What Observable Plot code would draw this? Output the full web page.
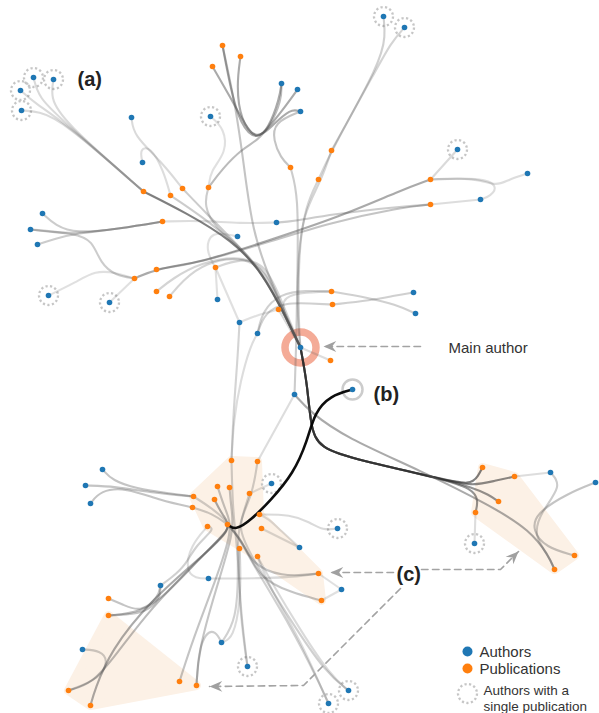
<!DOCTYPE html>
<html><head><meta charset="utf-8">
<script src="https://cdn.jsdelivr.net/npm/d3@7"></script>
<script src="https://cdn.jsdelivr.net/npm/@observablehq/plot@0.6"></script>
<style>html,body{margin:0;padding:0;background:#fff;} svg{display:block;}</style>
</head><body><div id="chart"></div>
<script>
// Authors: id, x, y, single publication (1/0)
const authors = [
 ["a1",33,77,1],["a2",53,79,1],["a3",20,90,1],["a4",21,110,1],["a5",210,116,1],
 ["a6",131,117,0],["a7",142,162,0],["a8",281,83,0],["a9",297,89,0],["a10",300,111,0],
 ["a11",383,16,1],["a12",404,27,1],["a13",457,149,1],["a14",527,173,0],["a15",480,199,0],
 ["a16",42,213,0],["a17",30,229,0],["a18",37,244,0],["a19",276,222,0],["a20",237,236,0],
 ["a21",48,295,1],["a22",109,302,1],["a23",217,299,0],["a24",239,322,0],["a25",257,333,0],
 ["M",300,347,0],["a27",294,394,0],["b",352,389,0],["a28",413,292,0],["a29",415,313,0],
 ["a30",102,469,0],["a31",85,485,0],["a32",90,503,0],["a33",271,483,1],["a34",337,528,1],
 ["a35",299,547,0],["a36",208,578,0],["a37",160,585,0],["a38",341,589,0],["a39",221,642,0],
 ["a40",82,649,0],["a41",247,666,1],["a42",348,690,1],["a43",328,703,1],["a44",550,472,0],
 ["a45",595,482,0],["a46",474,543,1]
];
// Publications: id, x, y
const publications = [
 ["p1",222,45],["p2",240,56],["p3",212,66],["p4",290,167],["p5",143,191],["p6",170,195],
 ["p7",182,188],["p8",208,187],["p9",331,150],["p10",318,179],["p11",430,179],["p12",430,204],
 ["p13",162,221],["p14",156,269],["p15",134,278],["p16",156,291],["p17",169,296],["p18",215,267],
 ["p19",278,309],["p20",331,291],["p21",332,304],["p22",330,360],
 ["p23",231,460],["p24",257,461],["p25",217,486],["p26",229,487],["p27",214,499],["p28",249,493],
 ["p29",193,496],["p30",192,507],["p31",259,514],["p32",207,526],["p33",227,524],["p34",261,528],
 ["p35",239,548],["p36",257,556],["p37",318,573],["p38",321,600],
 ["p39",108,598],["p40",108,615],["p41",68,690],["p42",90,705],["p43",179,681],["p44",196,685],
 ["p45",482,467],["p46",514,476],["p47",498,501],["p48",475,512],["p49",574,555],["p50",554,569]
];
// Clusters (c): ordered publication ids
const clusters = [
 ["p29","p23","p24","p31","p37","p38","p36","p32"],
 ["p40","p44","p42","p41"],
 ["p45","p46","p49","p50","p48"]
];
// Edges: source, target, routing points, strength, tone (0 gray, 1 black, 2 dark)
const edges = [
 ["a1","p5",[[38,97],[62,120]],.22],
 ["a2","p5",[[50,97],[62,120]],.22],
 ["a3","p5",[[36,104],[62,120]],.22],
 ["a4","p5",[[38,111],[62,120]],.22],
 ["p5","M",[[185,212],[232,240],[262,272],[286,318]],.6,2],
 ["p6","M",[[200,215],[234,242],[262,272],[286,318]],.3],
 ["p7","M",[[205,212],[236,243],[262,272],[286,318]],.3],
 ["p8","M",[[203,205],[215,228],[240,246],[265,276],[287,320]],.3],
 ["p1","M",[[236,110],[244,170],[252,230],[268,276],[288,320]],.35],
 ["p18","M",[[240,258],[265,262],[283,305]],.25],
 ["p16","M",[[172,278],[200,262],[240,255],[265,266],[285,316]],.25],
 ["p17","M",[[182,280],[205,262],[240,256],[265,268],[286,318]],.25],
 ["p9","M",[[320,182],[303,212],[297,260],[297,322]],.25],
 ["p10","M",[[305,205],[298,250],[298,322]],.25],
 ["p20","M",[[300,292],[278,298],[288,325]],.22],
 ["p19","M",[],.22],
 ["M","p22",[],.2],
 ["a6","p7",[[133,135],[160,160]],.22],
 ["a7","p6",[[139,148],[150,146],[163,170]],.2],
 ["a5","p8",[[224,128],[226,152],[210,170]],.18],
 ["p1","a8",[[230,88],[240,125],[256,140],[268,128],[279,98]],.5],
 ["p3","a9",[[230,97],[245,125],[256,140],[270,125],[287,103]],.5],
 ["p2","a10",[[236,85],[240,120],[256,140],[272,125],[290,108]],.5],
 ["p8","a8",[[222,168],[242,148],[257,140],[270,125],[281,100]],.4],
 ["a10","p4",[[273,122],[273,140],[280,157]],.35],
 ["p4","a27",[[298,195],[297,270],[296,340]],.3],
 ["a11","p9",[[385,35],[380,62]],.28],
 ["a12","p10",[[390,43],[377,67],[331,150]],.25],
 ["a13","p11",[],.22],
 ["p11","a14",[[475,177],[496,186],[508,179]],.2],
 ["p11","a15",[[480,177],[498,185],[490,196]],.2],
 ["a15","p12",[],.2],
 ["p15","p11",[[156,268],[200,262],[262,242],[340,216],[400,190]],.5],
 ["p14","p12",[[200,262],[270,241],[330,222],[400,207]],.35],
 ["p12","a19",[[400,206],[330,214],[292,221]],.3],
 ["a19","p13",[[240,223],[200,220]],.2],
 ["a16","p13",[[55,225],[75,233],[120,228]],.3],
 ["a17","p13",[[55,232],[75,233],[120,228]],.3],
 ["a18","p13",[[55,238],[75,233],[120,228]],.3],
 ["a17","p15",[[75,233],[92,240],[100,263],[115,275]],.3],
 ["a21","p15",[[75,282],[95,270],[115,272]],.18],
 ["a22","p15",[],.18],
 ["a20","p18",[[210,230],[205,250]],.18],
 ["p18","a23",[],.18],
 ["p18","a24",[],.18],
 ["a24","p19",[[255,315]],.18],
 ["a25","p20",[[262,310],[280,293],[305,290]],.28],
 ["a25","p21",[[264,312],[285,302],[310,303]],.28],
 ["p20","a29",[[367,297],[395,304]],.28],
 ["p21","a28",[[370,300],[395,295]],.28],
 ["M","p45",[[307,385],[310,425],[318,448],[360,460],[440,478],[470,485],[478,475]],.6,2],
 ["M","p46",[[307,385],[310,425],[318,448],[360,460],[440,478],[472,486],[495,480]],.55,2],
 ["M","p47",[[307,385],[310,425],[318,448],[360,460],[440,478],[472,487],[488,494]],.5,2],
 ["M","p48",[[307,385],[310,425],[318,448],[360,460],[440,478],[472,488],[478,500]],.5,2],
 ["a27","p50",[[310,412],[345,437],[420,470],[490,505],[530,530],[548,555]],.5],
 ["a44","p46",[],.2],
 ["a45","p49",[[567,493],[535,513],[532,530],[545,547]],.35],
 ["a44","p50",[[562,485],[540,512],[533,535],[548,555]],.3],
 ["a46","p48",[],.2],
 ["b","p33",[[330,395],[314,412],[307,440],[293,473],[270,500],[250,520],[235,530]],.95,1],
 ["a24","p23",[[237,360],[233,410]],.25],
 ["a25","p23",[[250,345],[240,380],[233,420]],.2],
 ["a27","p24",[],.2],
 ["p23","a41",[[232,500],[234,525],[238,560],[240,610]],.28],
 ["p24","a39",[[252,495],[236,525],[238,570],[236,620]],.28],
 ["p25","p43",[[225,510],[233,528],[215,580],[192,640]],.35],
 ["p26","p44",[[231,510],[234,530],[215,590],[198,650]],.35],
 ["p27","p42",[[222,515],[233,528],[200,557],[150,600],[110,650],[94,690]],.5],
 ["p28","a42",[[243,512],[238,528],[250,555],[290,620],[325,672]],.28],
 ["p29","a43",[[212,508],[232,525],[250,560],[290,625],[320,685]],.28],
 ["p30","p33",[[212,513]],.3],
 ["p32","a37",[[215,528],[195,545],[185,565],[170,578]],.28],
 ["a30","p29",[[112,480],[135,488],[170,493]],.35],
 ["a31","p29",[[115,486],[150,492]],.35],
 ["a32","p30",[[100,490],[125,487],[160,500]],.35],
 ["a33","p28",[],.18],
 ["p31","a34",[[290,514],[310,522],[322,530]],.22],
 ["p34","a35",[],.22],
 ["a35","p31",[[280,530],[268,518]],.2],
 ["a36","p37",[[260,578],[300,576]],.22],
 ["p32","a36",[[190,545],[185,570],[195,578]],.2],
 ["a37","p39",[[158,597],[140,612],[122,604]],.35],
 ["a37","p40",[[160,598],[145,612],[125,614]],.35],
 ["p40","p33",[[140,612],[165,595],[200,557],[228,530]],.4],
 ["a40","p41",[[100,650],[108,660],[100,678]],.3],
 ["p41","p33",[[92,683],[115,655],[150,608],[200,557],[228,530]],.4],
 ["a39","p44",[[215,630],[205,632],[198,652]],.3],
 ["a39","p35",[[233,638],[240,600],[240,565]],.22],
 ["a41","p35",[[243,640],[238,590]],.2],
 ["p36","a42",[[270,580],[300,630],[330,675]],.22],
 ["p36","a43",[[268,585],[300,640],[322,690]],.22],
 ["p37","p33",[[280,577],[250,562],[242,540]],.35],
 ["p38","p33",[[290,592],[258,577],[245,545]],.35],
 ["p37","a38",[],.18],
 ["p38","a38",[],.18]
];
// Annotation arrows (dashed paths, head at last point)
const arrows = [
 [[420,346],[323,346]],
 [[393,572],[330,572]],
 [[421,569],[500,569],[518,551]],
 [[400,588],[303,685],[209,686]]
];
const labels = [["(a)",77,85],["(b)",373,400],["(c)",396,580]];
const notes = [["Main author",448,352]];
const legendItems = [["Authors",479,656,"author"],["Publications",479,673,"pub"],["Authors with a",483,694,"single"],["single publication",483,710,null]];

const node = new Map();
authors.forEach(([id,x,y,single]) => node.set(id,{id,x,y,kind:"author",single}));
publications.forEach(([id,x,y]) => node.set(id,{id,x,y,kind:"pub"}));
const authorNodes = authors.map(a => node.get(a[0]));
const pubNodes = publications.map(p => node.get(p[0]));

const BLUE = "#1f77b4", ORANGE = "#ff7f0e";
const TONES = ["#555", "#000", "#2a2a2a"];
const sorted = edges.slice().sort((a,b) => (a[4]===1) - (b[4]===1));
const edgeMarks = sorted.map(([s,t,via,w,tone]) => {
  const a = node.get(s), b = node.get(t);
  const pts = [[a.x,a.y], ...via, [b.x,b.y]].map(([x,y]) => ({x,y}));
  return Plot.line(pts, {x:"x", y:"y", curve:"basis", stroke: TONES[tone||0],
    strokeOpacity: w, strokeWidth: tone===1 ? 2.6 : 2.1, strokeLinecap:"round"});
});
const hullMarks = clusters.map(ids => Plot.line(ids.map(id => node.get(id)), {
  x:"x", y:"y", curve:"linear-closed", fill:"#fcf1e6", stroke:"#fcf1e6", strokeWidth:9, strokeLinejoin:"round"}));

const head = {draw(ctx, size) { const s = Math.sqrt(size);
  ctx.moveTo(0,0); ctx.lineTo(-2*s,-0.85*s); ctx.lineTo(-1.35*s,0); ctx.lineTo(-2*s,0.85*s); ctx.closePath(); }};
const arrowLines = arrows.map(pts => Plot.line(pts.map(([x,y])=>({x,y})), {x:"x", y:"y", stroke:"#a3a3a3", strokeWidth:1.6, strokeDasharray:"6.5,4.5"}));
const heads = arrows.map(pts => { const [x0,y0] = pts[pts.length-2], [x1,y1] = pts[pts.length-1];
  return {x:x1, y:y1, angle: Math.atan2(y1-y0, x1-x0)*180/Math.PI}; });

const M = node.get("M"), B = node.get("b");
const chart = Plot.plot({
  width: 599, height: 713, margin: 0,
  x: {domain:[0,599], range:[0,599], axis:null},
  y: {domain:[0,713], range:[0,713], axis:null},
  style: {background:"#fff", fontFamily:"Liberation Sans, Arial, Helvetica, sans-serif"},
  marks: [
    ...hullMarks,
    Plot.dot(authorNodes.filter(d => d.single), {x:"x", y:"y", r:9.5, stroke:"#c6c6c6", strokeWidth:2.3, strokeDasharray:"2.2,2.4", fill:"none"}),
    Plot.dot([M], {x:"x", y:"y", r:15.5, stroke:"#f4ab97", strokeWidth:7.5, fill:"none"}),
    Plot.dot([B], {x:"x", y:"y", r:10, stroke:"#cccccc", strokeWidth:2.5, fill:"none"}),
    ...edgeMarks,
    Plot.dot(authorNodes, {x:"x", y:"y", r:2.8, fill:BLUE}),
    Plot.dot(pubNodes, {x:"x", y:"y", r:2.8, fill:ORANGE}),
    ...arrowLines,
    Plot.dot(heads, {x:"x", y:"y", rotate:"angle", symbol:head, r:3.6, fill:"#a0a0a0", stroke:"none"}),
    Plot.text(labels, {x:d=>d[1], y:d=>d[2], text:d=>d[0], fontSize:20, fontWeight:"bold", fill:"#222", textAnchor:"start", lineAnchor:"bottom"}),
    Plot.text(notes, {x:d=>d[1], y:d=>d[2], text:d=>d[0], fontSize:15, fill:"#333", textAnchor:"start", lineAnchor:"bottom"}),
    Plot.dot(legendItems.filter(d => d[3]==="author"), {x:d=>467, y:d=>d[2]-5, r:5, fill:BLUE}),
    Plot.dot(legendItems.filter(d => d[3]==="pub"), {x:d=>467, y:d=>d[2]-5, r:5, fill:ORANGE}),
    Plot.dot(legendItems.filter(d => d[3]==="single"), {x:d=>467, y:d=>d[2]-1, r:9.5, stroke:"#c6c6c6", strokeWidth:2.3, strokeDasharray:"2.2,2.4", fill:"none"}),
    Plot.text(legendItems.slice(0,2), {x:d=>d[1], y:d=>d[2], text:d=>d[0], fontSize:15, fill:"#333", textAnchor:"start", lineAnchor:"bottom"}),
    Plot.text(legendItems.slice(2), {x:d=>d[1], y:d=>d[2], text:d=>d[0], fontSize:13.5, fill:"#333", textAnchor:"start", lineAnchor:"bottom"})
  ]
});
document.getElementById("chart").appendChild(chart);
</script></body></html>
